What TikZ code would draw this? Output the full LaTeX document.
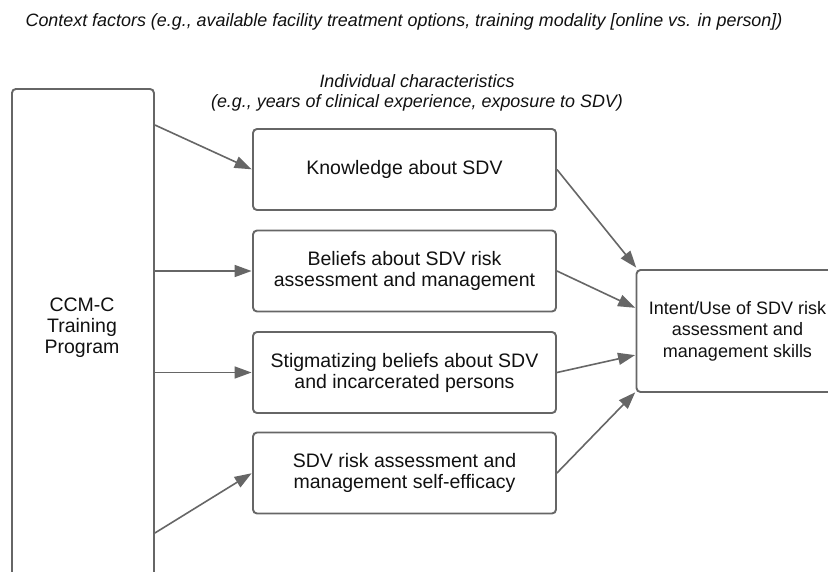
\documentclass[tikz,border=0pt]{standalone}
\usepackage{fontspec}
\setmainfont{Liberation Sans}
\usetikzlibrary{arrows.meta,positioning,calc}
\definecolor{lc}{HTML}{666666}
\definecolor{tc}{HTML}{111111}
\begin{document}
\begin{tikzpicture}[x=1pt,y=-1pt,
  box/.style={draw=lc, line width=1.9pt, rounded corners=4pt, fill=white, inner sep=0pt},
  txt/.style={font=\fontsize{19.5}{21}\selectfont, text=tc, align=center},
  otx/.style={font=\fontsize{18}{21.5}\selectfont, text=tc, align=center},
  itx/.style={font=\fontsize{17.9}{20}\selectfont\itshape, text=tc, align=center},
  arr/.style={draw=lc, line width=1.6pt, -{Triangle[length=17pt,width=12pt]}, shorten >=0.5pt}]
\useasboundingbox (0,0) rectangle (828,571);
\clip (0,0) rectangle (828,571);
\fill[white] (0,0) rectangle (828,571);
% titles
\node[itx] (ctx) at (404,22) {Context factors (e.g., available facility treatment options, training modality [online vs. in person])};
\node[itx] (ind) at (417,93) {Individual characteristics\\(e.g., years of clinical experience, exposure to SDV)};
% left program box
\node[box, minimum width=142pt, minimum height=500pt, anchor=north west] (progbox) at (11,88) {};
\node[txt] (prog) at (82,328) {CCM-C\\Training\\Program};
% middle boxes
\node[box, txt, minimum width=303pt, minimum height=81pt] (b1) at (404.5,169.5) {Knowledge about SDV};
\node[box, txt, minimum width=303pt, minimum height=81pt] (b2) at (404.5,271) {Beliefs about SDV risk\\assessment and management};
\node[box, txt, minimum width=303pt, minimum height=81pt] (b3) at (404.5,372.5) {Stigmatizing beliefs about SDV\\and incarcerated persons};
\node[box, txt, minimum width=303pt, minimum height=81pt] (b4) at (404.5,473) {SDV risk assessment and\\management self-efficacy};
% right outcome box
\node[box, otx, minimum width=202pt, minimum height=122pt] (out) at (737.5,331) {Intent/Use of SDV risk\\assessment and\\management skills};
% arrows from program
\draw[arr] ($(progbox.north east)+(0,37)$) -- (b1.west);
\draw[arr] (progbox.east |- b2.west) -- (b2.west);
\draw[arr] (progbox.east |- b3.west) -- (b3.west);
\draw[arr] ($(progbox.north east)+(0,445)$) -- (b4.west);
% arrows to outcome
\draw[arr] (b1.east) -- ($(out.north west)+(1,-1)$);
\draw[arr] (b2.east) -- ($(out.west)+(0,-23)$);
\draw[arr] (b3.east) -- ($(out.west)+(0,24)$);
\draw[arr] (b4.east) -- ($(out.south west)+(0,-1)$);
\end{tikzpicture}
\end{document}
